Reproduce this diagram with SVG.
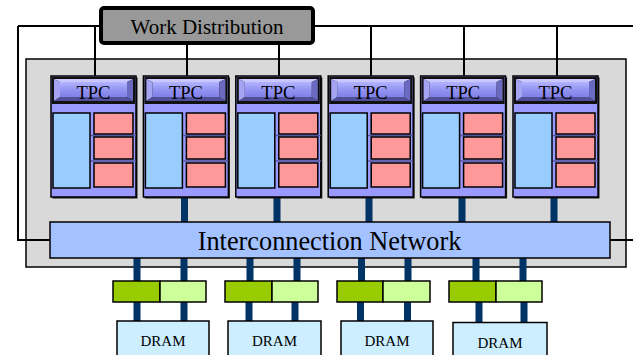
<svg xmlns="http://www.w3.org/2000/svg" width="633" height="355" viewBox="0 0 633 355">
<style>
text{font-family:"Liberation Serif","Times New Roman",serif;fill:#000}
.wire{stroke:#000;stroke-width:2;fill:none}
.bus{stroke:#003366;stroke-width:7;fill:none}
.body{fill:#9999ff;stroke:#000;stroke-width:1.5}
.shadow{fill:#1a1a1a}
.blue{fill:#99ccff;stroke:#000;stroke-width:1.5}
.red{fill:#ff9999;stroke:#000;stroke-width:1.5}
.sep{stroke:#55559a;stroke-width:1.5}
.dram{fill:#cceeff;stroke:#000;stroke-width:1.5}
.g1{fill:#99cc00;stroke:#000;stroke-width:1.5}
.g2{fill:#ccff99;stroke:#000;stroke-width:1.5}
.tpct{font-size:18.5px;text-anchor:middle}
.dt{font-size:15px;text-anchor:middle}
</style>
<defs>
<linearGradient id="face" x1="0" y1="0" x2="0" y2="1">
<stop offset="0" stop-color="#b4b4ff"/>
<stop offset="0.5" stop-color="#9494f4"/>
<stop offset="1" stop-color="#8080e6"/>
</linearGradient>
</defs>

<!-- container -->
<rect id="container" x="26" y="59" width="600" height="208" fill="#d9d9d9" stroke="#000" stroke-width="1.5"/>

<g id="connectors">
<path class="wire" d="M18,26 H633 M18,26 V240 H50 M610,240 H633"/>
<path class="wire" d="M95,26 V76 M187,44 V76 M279,44 V76 M371,26 V76 M464,26 V76 M557,26 V76"/>
<path class="bus" d="M184.5,197 V222 M277,197 V222 M369,197 V222 M462,197 V222 M554,197 V222"/>
<path class="bus" d="M137,258 V281 M184,258 V281 M250,258 V281 M297,258 V281 M361.5,258 V281 M408,258 V281 M476,258 V281 M523,258 V281"/>
<path class="bus" d="M137,302 V321 M184,302 V321 M249,302 V321 M295,302 V321 M360.5,302 V321 M407.5,302 V321 M479,302 V322 M524,302 V322"/>
</g>

<g id="work-distribution">
<rect x="101" y="8" width="212" height="35" rx="3" fill="#999999" stroke="#000" stroke-width="4"/>
<text x="207" y="33.5" font-size="21" text-anchor="middle">Work Distribution</text>
</g>

<g id="tpc1" transform="translate(51,0)">
<rect class="shadow" x="1.5" y="77.5" width="85" height="121"/>
<rect class="body" x="0" y="76" width="85" height="121"/>
<rect x="1" y="77" width="83" height="27" fill="#111"/>
<rect x="9" y="82" width="67" height="15" fill="url(#face)"/>
<polygon points="3,79 82,79 76,82 9,82" fill="#c8c8ff"/>
<polygon points="3,79 9,82 9,97 3,101" fill="#a4a4f2"/>
<polygon points="3,101 9,97 76,97 82,101" fill="#50509a"/>
<polygon points="82,79 82,101 76,97 76,82" fill="#6a6ac0"/>
<text class="tpct" x="42.5" y="99">TPC</text>
<line class="sep" x1="40" y1="135.5" x2="85" y2="135.5"/>
<line class="sep" x1="40" y1="161" x2="85" y2="161"/>
<rect class="blue" x="2" y="113" width="37" height="75"/>
<rect class="red" x="43" y="113" width="39" height="21"/>
<rect class="red" x="43" y="137" width="39" height="22"/>
<rect class="red" x="43" y="163" width="39" height="24"/>
</g>

<g id="tpc2" transform="translate(143.4,0)">
<rect class="shadow" x="1.5" y="77.5" width="85" height="121"/>
<rect class="body" x="0" y="76" width="85" height="121"/>
<rect x="1" y="77" width="83" height="27" fill="#111"/>
<rect x="9" y="82" width="67" height="15" fill="url(#face)"/>
<polygon points="3,79 82,79 76,82 9,82" fill="#c8c8ff"/>
<polygon points="3,79 9,82 9,97 3,101" fill="#a4a4f2"/>
<polygon points="3,101 9,97 76,97 82,101" fill="#50509a"/>
<polygon points="82,79 82,101 76,97 76,82" fill="#6a6ac0"/>
<text class="tpct" x="42.5" y="99">TPC</text>
<line class="sep" x1="40" y1="135.5" x2="85" y2="135.5"/>
<line class="sep" x1="40" y1="161" x2="85" y2="161"/>
<rect class="blue" x="2" y="113" width="37" height="75"/>
<rect class="red" x="43" y="113" width="39" height="21"/>
<rect class="red" x="43" y="137" width="39" height="22"/>
<rect class="red" x="43" y="163" width="39" height="24"/>
</g>

<g id="tpc3" transform="translate(235.8,0)">
<rect class="shadow" x="1.5" y="77.5" width="85" height="121"/>
<rect class="body" x="0" y="76" width="85" height="121"/>
<rect x="1" y="77" width="83" height="27" fill="#111"/>
<rect x="9" y="82" width="67" height="15" fill="url(#face)"/>
<polygon points="3,79 82,79 76,82 9,82" fill="#c8c8ff"/>
<polygon points="3,79 9,82 9,97 3,101" fill="#a4a4f2"/>
<polygon points="3,101 9,97 76,97 82,101" fill="#50509a"/>
<polygon points="82,79 82,101 76,97 76,82" fill="#6a6ac0"/>
<text class="tpct" x="42.5" y="99">TPC</text>
<line class="sep" x1="40" y1="135.5" x2="85" y2="135.5"/>
<line class="sep" x1="40" y1="161" x2="85" y2="161"/>
<rect class="blue" x="2" y="113" width="37" height="75"/>
<rect class="red" x="43" y="113" width="39" height="21"/>
<rect class="red" x="43" y="137" width="39" height="22"/>
<rect class="red" x="43" y="163" width="39" height="24"/>
</g>

<g id="tpc4" transform="translate(328.2,0)">
<rect class="shadow" x="1.5" y="77.5" width="85" height="121"/>
<rect class="body" x="0" y="76" width="85" height="121"/>
<rect x="1" y="77" width="83" height="27" fill="#111"/>
<rect x="9" y="82" width="67" height="15" fill="url(#face)"/>
<polygon points="3,79 82,79 76,82 9,82" fill="#c8c8ff"/>
<polygon points="3,79 9,82 9,97 3,101" fill="#a4a4f2"/>
<polygon points="3,101 9,97 76,97 82,101" fill="#50509a"/>
<polygon points="82,79 82,101 76,97 76,82" fill="#6a6ac0"/>
<text class="tpct" x="42.5" y="99">TPC</text>
<line class="sep" x1="40" y1="135.5" x2="85" y2="135.5"/>
<line class="sep" x1="40" y1="161" x2="85" y2="161"/>
<rect class="blue" x="2" y="113" width="37" height="75"/>
<rect class="red" x="43" y="113" width="39" height="21"/>
<rect class="red" x="43" y="137" width="39" height="22"/>
<rect class="red" x="43" y="163" width="39" height="24"/>
</g>

<g id="tpc5" transform="translate(420.6,0)">
<rect class="shadow" x="1.5" y="77.5" width="85" height="121"/>
<rect class="body" x="0" y="76" width="85" height="121"/>
<rect x="1" y="77" width="83" height="27" fill="#111"/>
<rect x="9" y="82" width="67" height="15" fill="url(#face)"/>
<polygon points="3,79 82,79 76,82 9,82" fill="#c8c8ff"/>
<polygon points="3,79 9,82 9,97 3,101" fill="#a4a4f2"/>
<polygon points="3,101 9,97 76,97 82,101" fill="#50509a"/>
<polygon points="82,79 82,101 76,97 76,82" fill="#6a6ac0"/>
<text class="tpct" x="42.5" y="99">TPC</text>
<line class="sep" x1="40" y1="135.5" x2="85" y2="135.5"/>
<line class="sep" x1="40" y1="161" x2="85" y2="161"/>
<rect class="blue" x="2" y="113" width="37" height="75"/>
<rect class="red" x="43" y="113" width="39" height="21"/>
<rect class="red" x="43" y="137" width="39" height="22"/>
<rect class="red" x="43" y="163" width="39" height="24"/>
</g>

<g id="tpc6" transform="translate(513,0)">
<rect class="shadow" x="1.5" y="77.5" width="85" height="121"/>
<rect class="body" x="0" y="76" width="85" height="121"/>
<rect x="1" y="77" width="83" height="27" fill="#111"/>
<rect x="9" y="82" width="67" height="15" fill="url(#face)"/>
<polygon points="3,79 82,79 76,82 9,82" fill="#c8c8ff"/>
<polygon points="3,79 9,82 9,97 3,101" fill="#a4a4f2"/>
<polygon points="3,101 9,97 76,97 82,101" fill="#50509a"/>
<polygon points="82,79 82,101 76,97 76,82" fill="#6a6ac0"/>
<text class="tpct" x="42.5" y="99">TPC</text>
<line class="sep" x1="40" y1="135.5" x2="85" y2="135.5"/>
<line class="sep" x1="40" y1="161" x2="85" y2="161"/>
<rect class="blue" x="2" y="113" width="37" height="75"/>
<rect class="red" x="43" y="113" width="39" height="21"/>
<rect class="red" x="43" y="137" width="39" height="22"/>
<rect class="red" x="43" y="163" width="39" height="24"/>
</g>

<g id="interconnect">
<rect x="50" y="222" width="560" height="36" fill="#a4c2ff" stroke="#000" stroke-width="1.5"/>
<text x="329.5" y="250" font-size="26.3" text-anchor="middle">Interconnection Network</text>
</g>

<g id="mc1">
<rect class="g1" x="113" y="281" width="47" height="21"/>
<rect class="g2" x="160" y="281" width="46" height="21"/>
</g>
<g id="mc2">
<rect class="g1" x="225" y="281" width="47" height="21"/>
<rect class="g2" x="272" y="281" width="46" height="21"/>
</g>
<g id="mc3">
<rect class="g1" x="337" y="281" width="46" height="21"/>
<rect class="g2" x="383" y="281" width="47" height="21"/>
</g>
<g id="mc4">
<rect class="g1" x="449" y="281" width="47" height="21"/>
<rect class="g2" x="496" y="281" width="46" height="21"/>
</g>

<g id="dram1">
<rect class="dram" x="117" y="321" width="92" height="40"/>
<text class="dt" x="163" y="346">DRAM</text>
</g>
<g id="dram2">
<rect class="dram" x="228" y="321" width="93" height="40"/>
<text class="dt" x="274.5" y="346">DRAM</text>
</g>
<g id="dram3">
<rect class="dram" x="341" y="321" width="92" height="40"/>
<text class="dt" x="387" y="346">DRAM</text>
</g>
<g id="dram4">
<rect class="dram" x="453" y="322.5" width="94" height="40"/>
<text class="dt" x="500" y="348">DRAM</text>
</g>
</svg>
